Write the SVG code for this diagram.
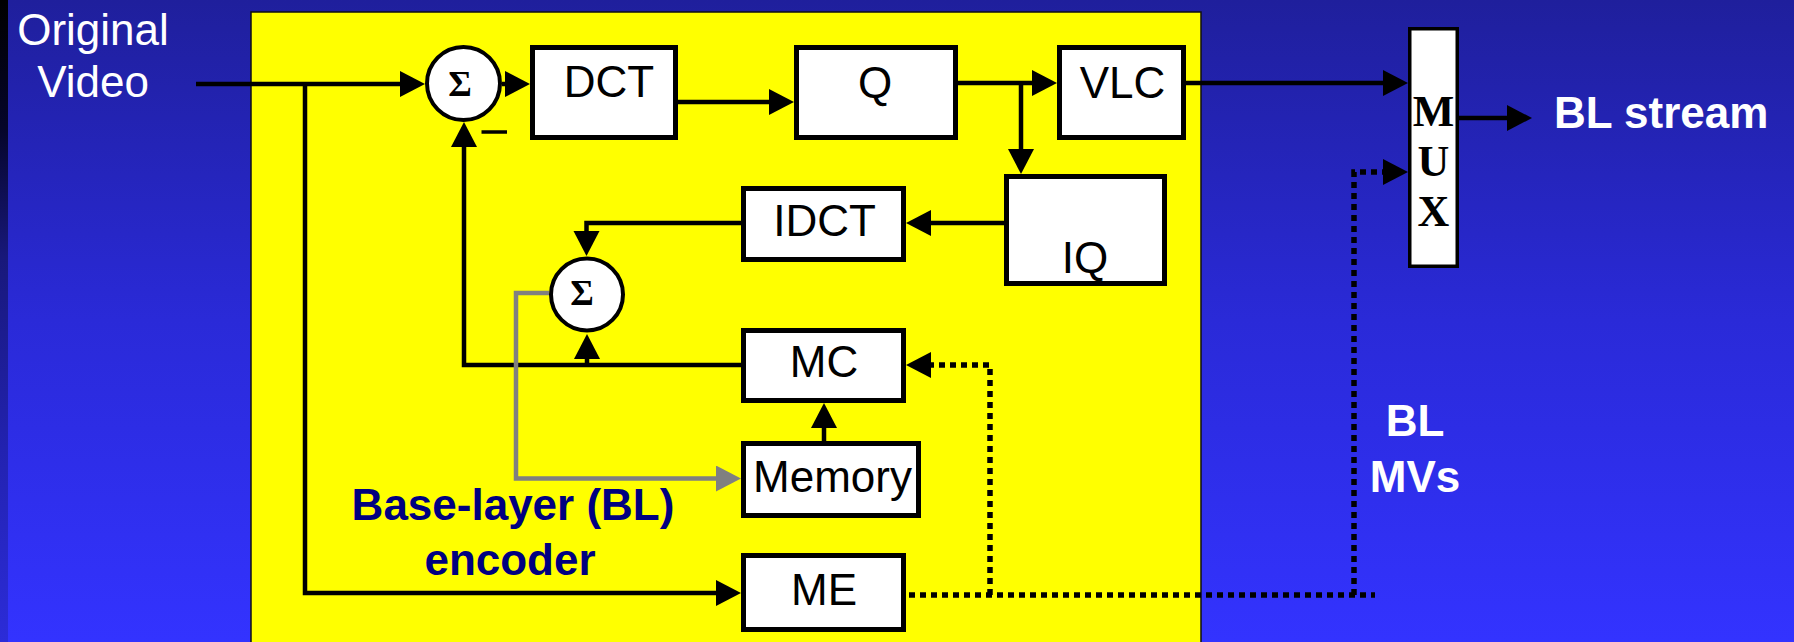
<svg xmlns="http://www.w3.org/2000/svg" width="1794" height="642" viewBox="0 0 1794 642">
<defs>
  <linearGradient id="bg" x1="0" y1="0" x2="0" y2="1">
    <stop offset="0" stop-color="#1f1f9c"/>
    <stop offset="0.5" stop-color="#2a2ad8"/>
    <stop offset="1" stop-color="#3333ff"/>
  </linearGradient>
  <linearGradient id="strip" x1="0" y1="0" x2="0" y2="1">
    <stop offset="0" stop-color="#000000"/>
    <stop offset="0.2" stop-color="#05052a"/>
    <stop offset="0.4" stop-color="#18187a"/>
    <stop offset="0.7" stop-color="#2222b0"/>
    <stop offset="1" stop-color="#2c2cd8"/>
  </linearGradient>
  <marker id="ah" markerUnits="userSpaceOnUse" markerWidth="26" markerHeight="27" refX="15" refY="13" orient="auto" viewBox="0 0 26 27">
    <path d="M0,0 L25,13 L0,26 z" fill="#000"/>
  </marker>
  <marker id="ahg" markerUnits="userSpaceOnUse" markerWidth="26" markerHeight="27" refX="15" refY="13" orient="auto" viewBox="0 0 26 27">
    <path d="M0,0 L25,13 L0,26 z" fill="#808080"/>
  </marker>
  <style>
    .box { fill: #fff; stroke: #000; stroke-width: 5; }
    .lbl { font-family: "Liberation Sans", Arial, sans-serif; font-size: 44px; fill: #000; text-anchor: middle; }
    .sum { fill: #fff; stroke: #000; stroke-width: 4; }
    .sig { font-family: "Liberation Serif", "Times New Roman", serif; font-weight: bold; font-size: 36px; fill: #000; text-anchor: middle; }
    .mux { font-family: "Liberation Serif", "Times New Roman", serif; font-weight: bold; font-size: 44px; fill: #000; text-anchor: middle; }
    .wt { font-family: "Liberation Sans", Arial, sans-serif; font-size: 44px; fill: #fff; }
    .wb { font-family: "Liberation Sans", Arial, sans-serif; font-size: 44px; font-weight: bold; fill: #fff; }
    .nv { font-family: "Liberation Sans", Arial, sans-serif; font-size: 44px; font-weight: bold; fill: #000080; text-anchor: middle; }
    .c { fill: none; stroke: #000; stroke-width: 4.5; }
    .cg { fill: none; stroke: #808080; stroke-width: 4.5; }
    .cd { fill: none; stroke: #000; stroke-width: 5.5; stroke-dasharray: 6 5; }
  </style>
</defs>

<rect x="0" y="0" width="1794" height="642" fill="url(#bg)"/>
<rect x="0" y="0" width="8" height="642" fill="url(#strip)"/>

<g id="encoder-panel">
  <rect x="251" y="12" width="950" height="640" fill="#ffff00" stroke="#111" stroke-width="1.5"/>
  <text class="nv" x="513" y="520">Base-layer (BL)</text>
  <text class="nv" x="510" y="575">encoder</text>
</g>

<g id="input-label">
  <text class="wt" x="93" y="45" text-anchor="middle">Original</text>
  <text class="wt" x="93" y="97" text-anchor="middle">Video</text>
</g>

<g id="connectors">
  <path class="c" d="M196 84 H415" marker-end="url(#ah)"/>
  <path class="c" d="M305 84 V593 H731" marker-end="url(#ah)"/>
  <path class="c" d="M502 84 H520" marker-end="url(#ah)"/>
  <path class="c" d="M664 102 H784" marker-end="url(#ah)"/>
  <path class="c" d="M958 83 H1047" marker-end="url(#ah)"/>
  <path class="c" d="M1021 83 V164" marker-end="url(#ah)"/>
  <path class="c" d="M1186 83 H1398" marker-end="url(#ah)"/>
  <path class="c" d="M1459 118 H1522" marker-end="url(#ah)"/>
  <path class="c" d="M1004 223 H916" marker-end="url(#ah)"/>
  <path class="c" d="M741 223 H586.5 V246" marker-end="url(#ah)"/>
  <path class="c" d="M741 365 H464 V132" marker-end="url(#ah)"/>
  <path class="c" d="M587 365 V344" marker-end="url(#ah)"/>
  <path class="c" d="M824 441 V413" marker-end="url(#ah)"/>
  <path class="cg" d="M549 293 H516 V478.5 H731" marker-end="url(#ahg)"/>
  <path class="cd" d="M909 595 H1375"/>
  <path class="cd" d="M990 595 V365 H916" marker-end="url(#ah)"/>
  <path class="cd" d="M1354 595 V172 H1398" marker-end="url(#ah)"/>
  <line x1="481.5" y1="132" x2="507" y2="132" stroke="#000" stroke-width="3.5"/>
</g>

<g id="sum1">
  <circle class="sum" cx="463.5" cy="83.5" r="36.5"/>
  <text class="sig" x="460" y="96">Σ</text>
</g>

<g id="dct">
  <rect class="box" x="532.5" y="47.5" width="143" height="90"/>
  <text class="lbl" x="609" y="97">DCT</text>
</g>

<g id="q">
  <rect class="box" x="796.5" y="47.5" width="159" height="90"/>
  <text class="lbl" x="875" y="98">Q</text>
</g>

<g id="vlc">
  <rect class="box" x="1059.5" y="47.5" width="124" height="90"/>
  <text class="lbl" x="1122.5" y="98">VLC</text>
</g>

<g id="iq">
  <rect class="box" x="1006.5" y="176.5" width="158" height="107"/>
  <text class="lbl" x="1085" y="273">IQ</text>
</g>

<g id="idct">
  <rect class="box" x="743.5" y="188.5" width="160" height="71"/>
  <text class="lbl" x="824.5" y="236">IDCT</text>
</g>

<g id="sum2">
  <circle class="sum" cx="587" cy="294.5" r="36"/>
  <text class="sig" x="582" y="305">Σ</text>
</g>

<g id="mc">
  <rect class="box" x="743.5" y="330.5" width="160" height="70"/>
  <text class="lbl" x="824" y="377">MC</text>
</g>

<g id="memory">
  <rect class="box" x="743.5" y="443.5" width="175" height="72"/>
  <text class="lbl" x="832.5" y="492">Memory</text>
</g>

<g id="me">
  <rect class="box" x="743.5" y="555.5" width="160" height="74"/>
  <text class="lbl" x="824" y="605">ME</text>
</g>

<g id="mux">
  <rect x="1409.75" y="28.75" width="47.5" height="237.5" fill="#fff" stroke="#000" stroke-width="3.5"/>
  <text class="mux" x="1433.5" y="126">M</text>
  <text class="mux" x="1433.5" y="176">U</text>
  <text class="mux" x="1433.5" y="226">X</text>
</g>

<g id="bl-stream">
  <text class="wb" x="1554" y="128">BL stream</text>
</g>

<g id="bl-mvs">
  <text class="wb" x="1415" y="436" text-anchor="middle">BL</text>
  <text class="wb" x="1415" y="492" text-anchor="middle">MVs</text>
</g>
</svg>
